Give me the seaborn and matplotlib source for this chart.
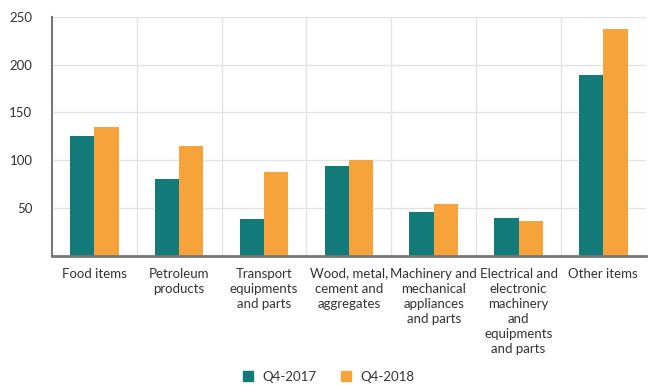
import pandas as pd
import seaborn as sns
import matplotlib.pyplot as plt
from matplotlib.lines import Line2D

# values
categories = ['Food items', 'Petroleum\nproducts', 'Transport\nequipments\nand parts',
              'Wood, metal,\ncement and\naggregates', 'Machinery and\nmechanical\nappliances\nand parts',
              'Electrical and\nelectronic\nmachinery\nand\nequipments\nand parts', 'Other items']
q4_2017 = [126, 81, 39, 94, 46, 40, 189]
q4_2018 = [135, 115, 88, 100, 55, 37, 237]
series = ['Q4-2017', 'Q4-2018']
colors = ['#127b79', '#f5a33a']

df = pd.DataFrame({
    'category': categories * 2,
    'value': q4_2017 + q4_2018,
    'period': [series[0]] * len(categories) + [series[1]] * len(categories),
})

sns.set_style('white')
plt.rcParams['font.family'] = ['Lato', 'DejaVu Sans']

fig, ax = plt.subplots(figsize=(6.49, 3.85), dpi=100)
fig.subplots_adjust(left=0.080, right=0.995, top=0.957, bottom=0.334)

sns.barplot(data=df, x='category', y='value', hue='period', palette=colors,
            width=0.57, gap=0, saturation=1, edgecolor='none', ax=ax, legend=False)

ax.set_xlim(-0.5, len(categories) - 0.5)
ax.set_ylim(0, 250)
ax.set_yticks([50, 100, 150, 200, 250])
ax.set_xticks([i + 0.5 for i in range(len(categories))], minor=True)
ax.grid(axis='y', color='#e3e3e3', linewidth=1)
ax.grid(axis='x', which='minor', color='#e3e3e3', linewidth=1)
ax.set_axisbelow(True)

for side in ['top', 'right']:
    ax.spines[side].set_visible(False)
ax.spines['left'].set_color('#777777')
ax.spines['left'].set_linewidth(1.5)
ax.spines['bottom'].set_color('#777777')
ax.spines['bottom'].set_linewidth(2)

ax.tick_params(axis='both', which='both', length=0, labelsize=9.5, labelcolor='#333333')
ax.tick_params(axis='x', pad=8)
ax.tick_params(axis='y', pad=14)
for lbl in ax.get_xticklabels():
    lbl.set_linespacing(1.3)
ax.set_xlabel('')
ax.set_ylabel('')

handles = [Line2D([], [], marker='s', linestyle='none', markersize=7, color=c) for c in colors]
fig.legend(handles, series, loc='center', bbox_to_anchor=(0.5, 0.021), ncol=2, frameon=False,
           fontsize=9.5, handletextpad=0.1, columnspacing=1.2, labelcolor='#333333')

plt.savefig('out.png')
